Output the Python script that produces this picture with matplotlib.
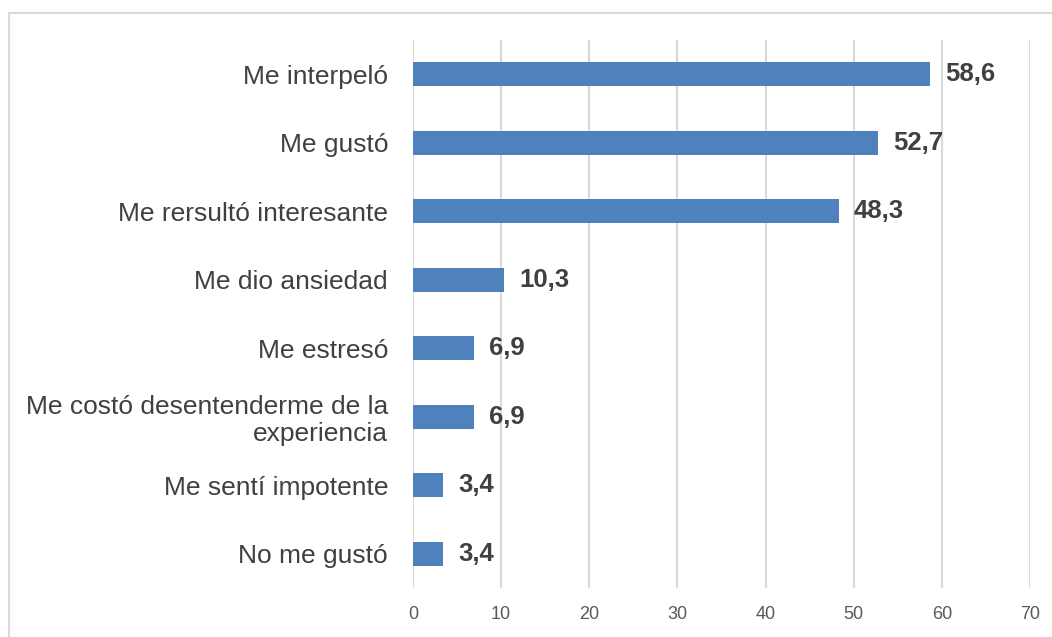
import matplotlib
matplotlib.use("Agg")
import matplotlib.pyplot as plt
from matplotlib.patches import Rectangle

categories = [
    "Me interpeló",
    "Me gustó",
    "Me rersultó interesante",
    "Me dio ansiedad",
    "Me estresó",
    "Me costó desentenderme de la\nexperiencia",
    "Me sentí impotente",
    "No me gustó",
]
values = [58.6, 52.7, 48.3, 10.3, 6.9, 6.9, 3.4, 3.4]
xticks = [0, 10, 20, 30, 40, 50, 60, 70]

plt.rcParams["font.family"] = ["Liberation Sans", "DejaVu Sans"]

fig = plt.figure(figsize=(10.52, 6.37), dpi=100)

# light frame around the chart (cut at right and bottom)
fig.patches.append(
    Rectangle((9 / 1052, -0.05), 1.1, 1 - 13 / 637 + 0.05,
              transform=fig.transFigure, fill=False,
              edgecolor="#D9D9D9", linewidth=1.5)
)

ax = fig.add_axes([413 / 1052, 1 - 588 / 637, (1030 - 413) / 1052, (588 - 40) / 637])

pos = list(range(len(categories)))
ax.barh(pos, values, height=0.35, color="#4F81BD")

for p, v in zip(pos, values):
    ax.annotate(
        f"{v:.1f}".replace(".", ","),
        (v, p),
        xytext=(11, 0),
        textcoords="offset points",
        va="center",
        ha="left",
        fontsize=18.5,
        fontweight="bold",
        color="#404040",
    )

ax.set_xlim(0, 70)
ax.set_ylim(len(categories) - 0.5, -0.5)
ax.set_xticks(xticks)
ax.set_xticklabels([str(t) for t in xticks], fontsize=13, color="#595959")
ax.set_yticks(pos)
ax.set_yticklabels(categories, fontsize=19, color="#404040", linespacing=1.15)
ax.tick_params(axis="both", length=0)
ax.tick_params(axis="x", pad=13)
ax.tick_params(axis="y", pad=18)

ax.grid(axis="x", color="#D9D9D9", linewidth=1.5)
ax.set_axisbelow(True)
for s in ax.spines.values():
    s.set_visible(False)

fig.savefig("out.png", dpi=100)
